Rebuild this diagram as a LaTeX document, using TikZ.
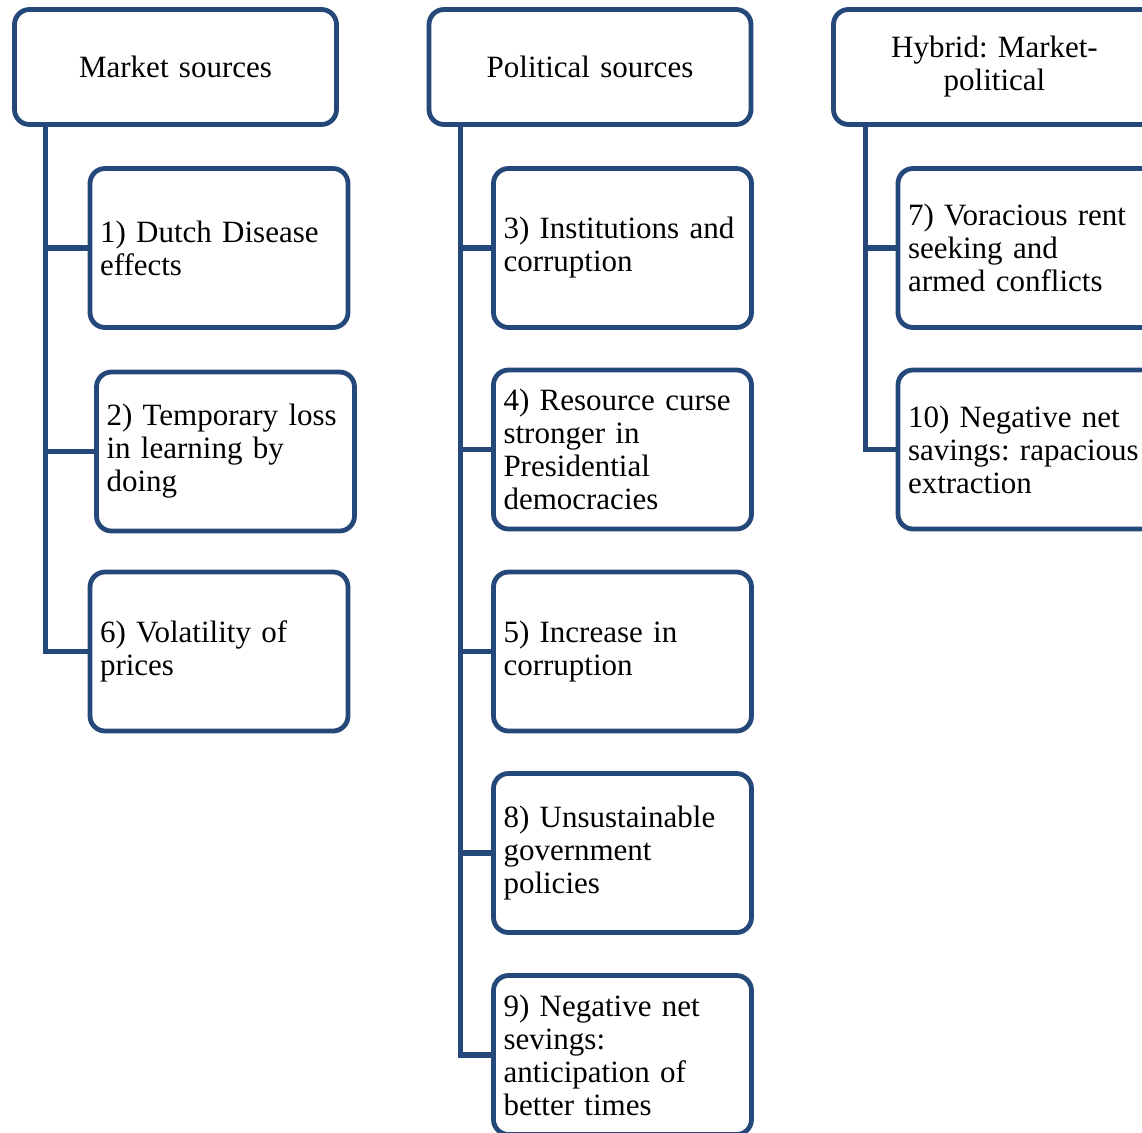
\documentclass[tikz,border=0pt]{standalone}
\usepackage{fontspec}
\setmainfont{Liberation Serif}
\usetikzlibrary{positioning}
\frenchspacing

\definecolor{boxblue}{RGB}{37,72,122}

\begin{document}
\begin{tikzpicture}
    [x=0.5pt, y=-0.5pt,
    every node/.style={font=\fontsize{15.5}{16.5}\selectfont},
    source/.style={draw=boxblue, line width=2.4pt, rounded corners=7.5pt,
        fill=white, minimum width=161pt, minimum height=57.5pt,
        text width=150pt, align=center},
    effect/.style={draw=boxblue, line width=2.4pt, rounded corners=7.5pt,
        fill=white, minimum height=79.5pt, inner xsep=5pt,
        text width=119pt, align=left},
    branch/.style={draw=boxblue, line width=2.6pt}
    ]
    \useasboundingbox (0,0) rectangle (1142,1132);
    \clip (0,0) rectangle (1142,1132);

    % headers
    \node (market) [source] at (175.5,67) {Market sources};
    \node (political) [source] at (590,67) {Political sources};
    \node (hybrid) [source] at (994.5,67) {Hybrid: Market-\\political};

    % market column
    \node (dutch) [effect] at (219,248) {1) Dutch Disease\\effects};
    \node (learning) [effect] at (225.5,451.5) {2) Temporary loss\\in learning by\\doing};
    \node (volatility) [effect] at (219,651.5) {6) Volatility of\\prices};

    % political column
    \node (institutions) [effect] at (622.5,248) {3) Institutions and\\corruption};
    \node (presidential) [effect] at (622.5,449.5) {4) Resource curse\\stronger in\\Presidential\\democracies};
    \node (increase) [effect] at (622.5,651.5) {5) Increase in\\corruption};
    \node (unsustainable) [effect] at (622.5,853) {8) Unsustainable\\government\\policies};
    \node (anticipation) [effect] at (622.5,1055) {9) Negative net\\sevings:\\anticipation of\\better times};

    % hybrid column
    \node (voracious) [effect] at (1027,248) {7) Voracious rent\\seeking and\\armed conflicts};
    \node (rapacious) [effect] at (1027,449.5) {10) Negative net\\savings: rapacious\\extraction};

    % connectors
    \foreach \child in {dutch, learning, volatility}
        \draw[branch] ([xshift=16.5pt]market.south west) |- (\child.west);
    \foreach \child in {institutions, presidential, increase, unsustainable, anticipation}
        \draw[branch] ([xshift=17pt]political.south west) |- (\child.west);
    \foreach \child in {voracious, rapacious}
        \draw[branch] ([xshift=17pt]hybrid.south west) |- (\child.west);
\end{tikzpicture}
\end{document}
